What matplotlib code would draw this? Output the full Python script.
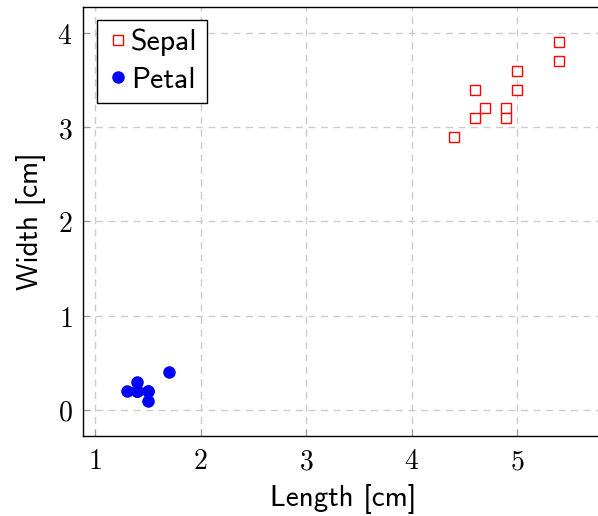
import matplotlib
matplotlib.use("Agg")
import matplotlib.pyplot as plt
from matplotlib.ticker import FuncFormatter

plt.rcParams['mathtext.fontset'] = 'cm'

sepal_length = [5.4, 5.4, 5.0, 5.0, 4.6, 4.7, 4.9, 4.9, 4.6, 4.4]
sepal_width = [3.9, 3.7, 3.6, 3.4, 3.4, 3.2, 3.2, 3.1, 3.1, 2.9]
petal_length = [1.4, 1.4, 1.3, 1.5, 1.4, 1.7, 1.4, 1.5, 1.4, 1.5]
petal_width = [0.2, 0.2, 0.2, 0.2, 0.2, 0.4, 0.3, 0.2, 0.2, 0.1]
x_ticks = [1, 2, 3, 4, 5]
y_ticks = [0, 1, 2, 3, 4]

fig = plt.figure(figsize=(5.98, 5.16), dpi=100)
ax = fig.add_axes([0.1395, 0.1543, 0.868, 0.833])

ax.plot(sepal_length, sepal_width, linestyle='none', marker='s', markersize=7.5,
        markerfacecolor='white', markeredgecolor='#ff0000', markeredgewidth=1.0,
        label='Sepal', zorder=3)
ax.plot(petal_length, petal_width, linestyle='none', marker='o', markersize=8,
        markerfacecolor='#0000ff', markeredgecolor='#0000ff', label='Petal', zorder=3)

ax.set_xlim(0.89, 5.81)
ax.set_ylim(-0.28, 4.28)
ax.set_xticks(x_ticks)
ax.set_yticks(y_ticks)
fmt = FuncFormatter(lambda v, p: r'$%d$' % v)
ax.xaxis.set_major_formatter(fmt)
ax.yaxis.set_major_formatter(fmt)
ax.tick_params(direction='in', labelsize=20, length=5, color='#999999', pad=8)
ax.grid(True, linestyle=(0, (5, 4)), color='#cccccc', linewidth=1.0)
ax.set_axisbelow(True)
for s in ax.spines.values():
    s.set_linewidth(1.0)

ax.set_xlabel('Length [cm]', fontsize=21, family='cmss10', labelpad=6)
ax.set_ylabel('Width [cm]', fontsize=21, family='cmss10', labelpad=8)

leg = ax.legend(loc='upper left', prop={'family': 'cmss10', 'size': 21.5},
                fancybox=False, edgecolor='black', framealpha=1,
                handletextpad=0.05, handlelength=0.8, borderpad=0.3,
                labelspacing=0.35, borderaxespad=0.45)
leg.get_frame().set_linewidth(1.0)

fig.savefig('out.png', dpi=100)
